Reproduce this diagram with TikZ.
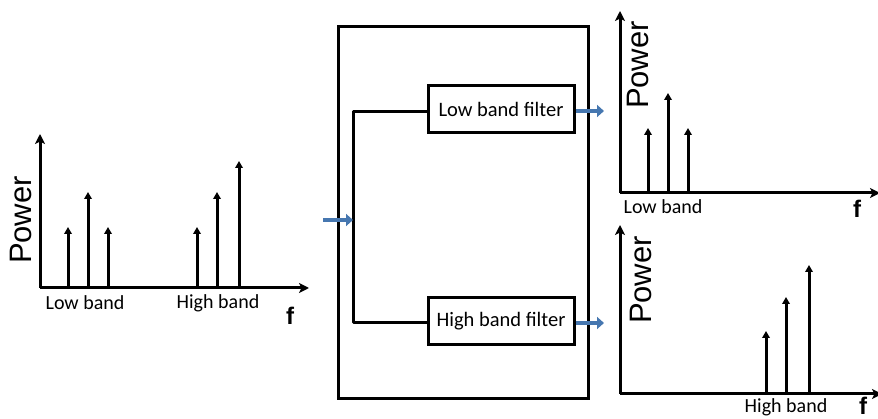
\documentclass[tikz,border=0pt]{standalone}
\usepackage{fontspec}
\setmainfont{Carlito}
\newfontfamily\arialf{Liberation Sans}
\usetikzlibrary{arrows.meta}
\definecolor{arrowblue}{HTML}{4677B0}
\begin{document}
\begin{tikzpicture}[x=1pt,y=-1pt,
  axisline/.style={line width=3pt,-{Stealth[length=10pt,width=10pt,inset=2.5pt]}},
  spike/.style={line width=3pt,-{Triangle[length=7pt,width=7.5pt]}},
  lbl/.style={font=\fontsize{20}{20}\selectfont, inner sep=0pt},
  pow/.style={font=\arialf\fontsize{31}{31}\selectfont, rotate=90, inner sep=0pt},
  fl/.style={font=\arialf\bfseries\fontsize{24}{24}\selectfont, inner sep=0pt},
  filt/.style={draw, line width=3pt, minimum width=146pt, minimum height=47pt, font=\fontsize{20.5}{20.5}\selectfont, inner sep=0pt},
  conn/.style={line width=3pt, line join=round},
  barrow/.style={line width=4.5pt, color=arrowblue, -{Triangle[length=7pt,width=12pt]}}
]
\useasboundingbox (0,0) rectangle (878,419);

% ---------- left spectrum ----------
\coordinate (LO) at (40,288);
\coordinate (LY) at (40,134);
\coordinate (LX) at (309,288);
\draw[axisline] (LO) -- (LY);
\draw[axisline] (LO) -- (LX);
\foreach \x/\t [count=\i] in {68/227,88/192,108/227,197/227,217/192,239/161}{
  \coordinate (lb\i) at (\x,288);
  \coordinate (lt\i) at (\x,\t);
  \draw[spike] (lb\i) -- (lt\i);
}
\node[pow] (lpow) at (21,220) {Power};
\node[lbl] (llow) at (85,303) {Low band};
\node[lbl] (lhigh) at (218,303) {High band};
\node[fl] (lf) at (290,316) {f};

% ---------- filter bank ----------
\node[draw, line width=3pt, minimum width=250pt, minimum height=371pt] (outer) at (463,212.5) {};
\node[filt] (lowf) at (501,109.5) {Low band filter};
\node[filt] (highf) at (501,321.5) {High band filter};
\coordinate (j) at (353,220);
\coordinate (in) at (323,220);
\draw[conn] (lowf.west |- 0,112) -| (j) |- (highf.west |- 0,323);
\draw[barrow] (in) -- (j);
\coordinate (lo) at (604,111);
\coordinate (ho) at (604,323);
\draw[barrow] (lowf.east |- 0,111) -- (lo);
\draw[barrow] (highf.east |- 0,323) -- (ho);

% ---------- top right spectrum ----------
\coordinate (TO) at (620,193);
\coordinate (TY) at (620,11);
\coordinate (TX) at (880,193);
\draw[axisline] (TO) -- (TY);
\draw[axisline] (TO) -- (TX);
\foreach \x/\t [count=\i] in {648/128,668/93,688/128}{
  \coordinate (tb\i) at (\x,193);
  \coordinate (tt\i) at (\x,\t);
  \draw[spike] (tb\i) -- (tt\i);
}
\node[pow] (tpow) at (638,65) {Power};
\node[lbl] (tlow) at (663,207) {Low band};
\node[fl] (tf) at (857,209) {f};

% ---------- bottom right spectrum ----------
\coordinate (BO) at (620,394);
\coordinate (BY) at (620,225);
\coordinate (BX) at (882,394);
\draw[axisline] (BO) -- (BY);
\draw[axisline] (BO) -- (BX);
\foreach \x/\t [count=\i] in {766/331,786/297,809/265}{
  \coordinate (bb\i) at (\x,394);
  \coordinate (bt\i) at (\x,\t);
  \draw[spike] (bb\i) -- (bt\i);
}
\node[pow] (bpow) at (641,280) {Power};
\node[lbl] (bhigh) at (786,407) {High band};
\node[fl, anchor=north] (bf) at (863,397) {f};
\end{tikzpicture}
\end{document}
